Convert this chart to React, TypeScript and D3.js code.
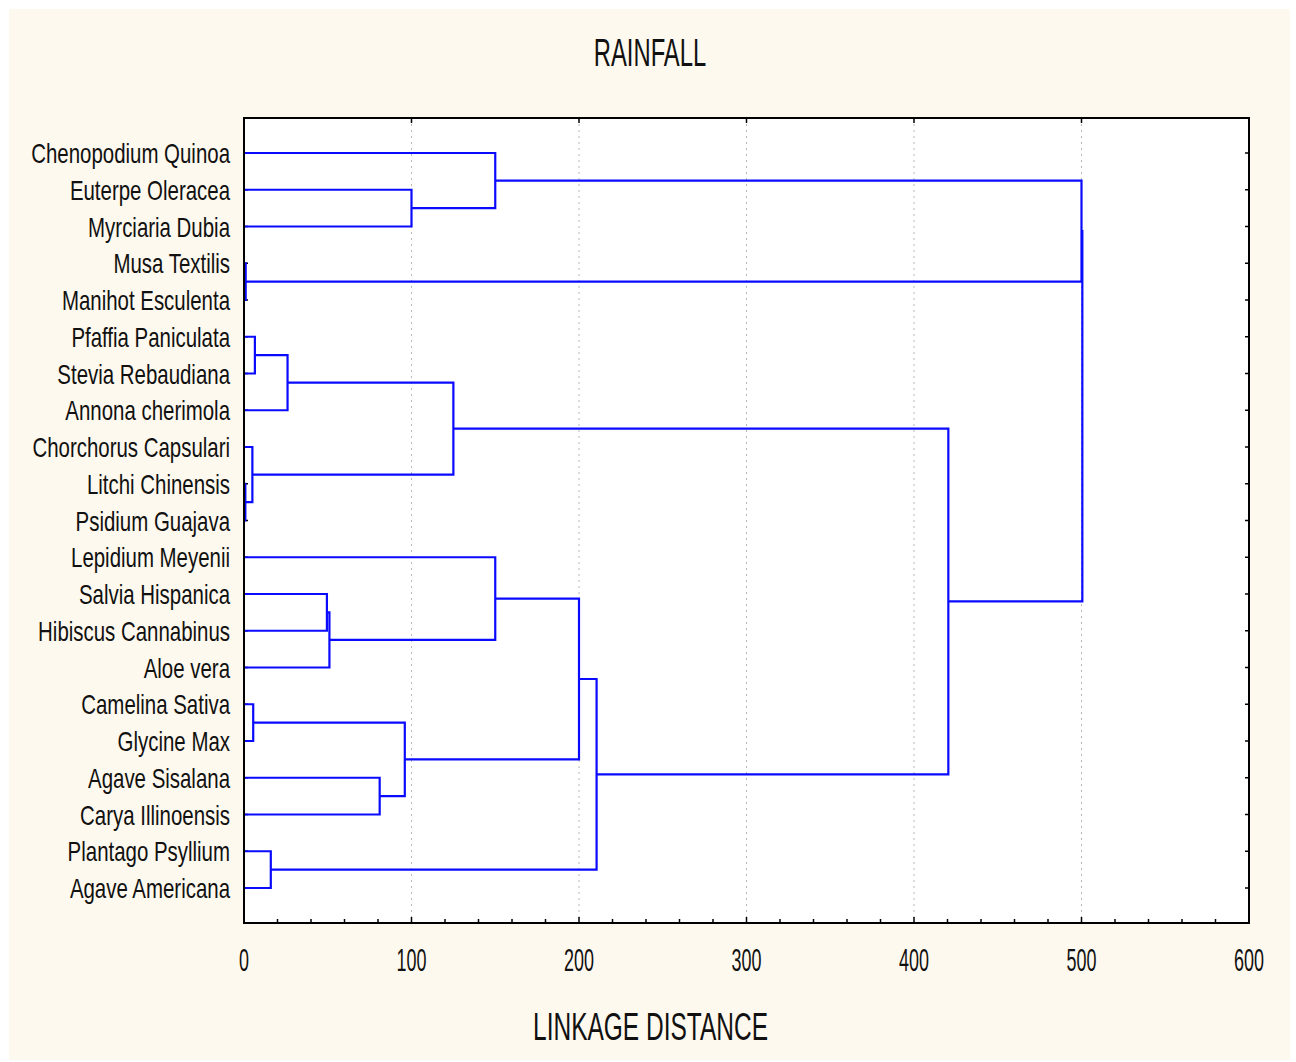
import React from "react";
import * as d3 from "d3";

const title = "RAINFALL";
const xAxisTitle = "LINKAGE DISTANCE";

const leaves = [
  "Chenopodium Quinoa",
  "Euterpe Oleracea",
  "Myrciaria Dubia",
  "Musa Textilis",
  "Manihot Esculenta",
  "Pfaffia Paniculata",
  "Stevia Rebaudiana",
  "Annona cherimola",
  "Chorchorus Capsulari",
  "Litchi Chinensis",
  "Psidium Guajava",
  "Lepidium Meyenii",
  "Salvia Hispanica",
  "Hibiscus Cannabinus",
  "Aloe vera",
  "Camelina Sativa",
  "Glycine Max",
  "Agave Sisalana",
  "Carya Illinoensis",
  "Plantago Psyllium",
  "Agave Americana",
];

// merges: [childA, childB, linkage distance]; node ids: leaves 0..20, clusters 21+
const mergeLeft = [1, 0, 3, 22, 5, 25, 9, 8, 26, 12, 30, 11, 15, 17, 33, 32, 19, 36, 29, 24];
const mergeRight = [2, 21, 4, 23, 6, 7, 10, 27, 28, 13, 14, 31, 16, 18, 34, 35, 20, 37, 38, 39];
const mergeHeight = [100, 150, 1, 500, 6.5, 26, 0.8, 5, 125, 49.5, 51, 150, 5.5, 81, 96, 200, 16, 210.5, 420.5, 500.5];

const xTicks = [0, 100, 200, 300, 400, 500, 600];

const W = 1296;
const H = 1062;
const plot = { left: 244, right: 1249, top: 118, bottom: 923 };

export default function App() {
  const x = d3.scaleLinear().domain([0, 600]).range([plot.left, plot.right]);
  const y = d3.scaleLinear().domain([0, leaves.length - 1]).range([153, 888]);

  const nodeY: number[] = leaves.map((_, i) => y(i));
  const nodeH: number[] = leaves.map(() => 0);
  const paths: string[] = [];
  mergeHeight.forEach((h, i) => {
    const a = mergeLeft[i];
    const b = mergeRight[i];
    const p = d3.path();
    p.moveTo(x(nodeH[a]), nodeY[a]);
    p.lineTo(x(h), nodeY[a]);
    p.lineTo(x(h), nodeY[b]);
    p.lineTo(x(nodeH[b]), nodeY[b]);
    paths.push(p.toString());
    nodeY.push((nodeY[a] + nodeY[b]) / 2);
    nodeH.push(h);
  });

  const minorTicks = d3.range(0, 601, 20).filter((v) => v % 100 !== 0);
  const font = "'Liberation Sans', Arial, sans-serif";

  return (
    <svg width={W} height={H} style={{ position: "absolute", left: 0, top: 0 }}>
      <rect x={0} y={0} width={W} height={H} fill="#ffffff" />
      <rect x={9} y={9} width={1281} height={1051} fill="#fef9ee" />
      <rect
        x={plot.left}
        y={plot.top}
        width={plot.right - plot.left}
        height={plot.bottom - plot.top}
        fill="#ffffff"
      />
      {/* grid */}
      {xTicks.slice(1, -1).map((t) => (
        <line
          key={"g" + t}
          x1={x(t)}
          x2={x(t)}
          y1={plot.top}
          y2={plot.bottom}
          stroke="#b8b8b8"
          strokeWidth={1}
          strokeDasharray="2,4"
        />
      ))}
      {/* bottom ticks */}
      {xTicks.map((t) => (
        <line key={"bt" + t} x1={x(t)} x2={x(t)} y1={plot.bottom} y2={plot.bottom - 6} stroke="#000" strokeWidth={1.5} />
      ))}
      {minorTicks.map((t) => (
        <line key={"bm" + t} x1={x(t)} x2={x(t)} y1={plot.bottom} y2={plot.bottom - 4} stroke="#000" strokeWidth={1.5} />
      ))}
      {/* top ticks */}
      {xTicks.map((t) => (
        <line key={"tt" + t} x1={x(t)} x2={x(t)} y1={plot.top} y2={plot.top + 5} stroke="#000" strokeWidth={1.5} />
      ))}
      {/* left and right ticks */}
      {leaves.map((_, i) => (
        <g key={"yt" + i}>
          <line x1={plot.left} x2={plot.left + 4} y1={y(i)} y2={y(i)} stroke="#000" strokeWidth={1.5} />
          <line x1={plot.right} x2={plot.right - 4} y1={y(i)} y2={y(i)} stroke="#000" strokeWidth={1.5} />
        </g>
      ))}
      {/* dendrogram */}
      {paths.map((d, i) => (
        <path key={"p" + i} d={d} fill="none" stroke="#0a0aff" strokeWidth={2.2} />
      ))}
      {/* frame */}
      <rect
        x={plot.left}
        y={plot.top}
        width={plot.right - plot.left}
        height={plot.bottom - plot.top}
        fill="none"
        stroke="#000"
        strokeWidth={2}
      />
      {/* leaf labels */}
      {leaves.map((name, i) => (
        <text
          key={"l" + i}
          transform={`translate(230,${y(i) + 10}) scale(0.73,1)`}
          textAnchor="end"
          fontFamily={font}
          fontSize={28}
          fill="#111"
        >
          {name}
        </text>
      ))}
      {/* x tick labels */}
      {xTicks.map((t) => (
        <text
          key={"xl" + t}
          transform={`translate(${x(t)},971) scale(0.56,1)`}
          textAnchor="middle"
          fontFamily={font}
          fontSize={32}
          fill="#111"
        >
          {t}
        </text>
      ))}
      <text
        transform={`translate(650,66) scale(0.61,1)`}
        textAnchor="middle"
        fontFamily={font}
        fontSize={39}
        fill="#111"
      >
        {title}
      </text>
      <text
        transform={`translate(650.5,1040) scale(0.62,1)`}
        textAnchor="middle"
        fontFamily={font}
        fontSize={39.5}
        fill="#111"
      >
        {xAxisTitle}
      </text>
    </svg>
  );
}
